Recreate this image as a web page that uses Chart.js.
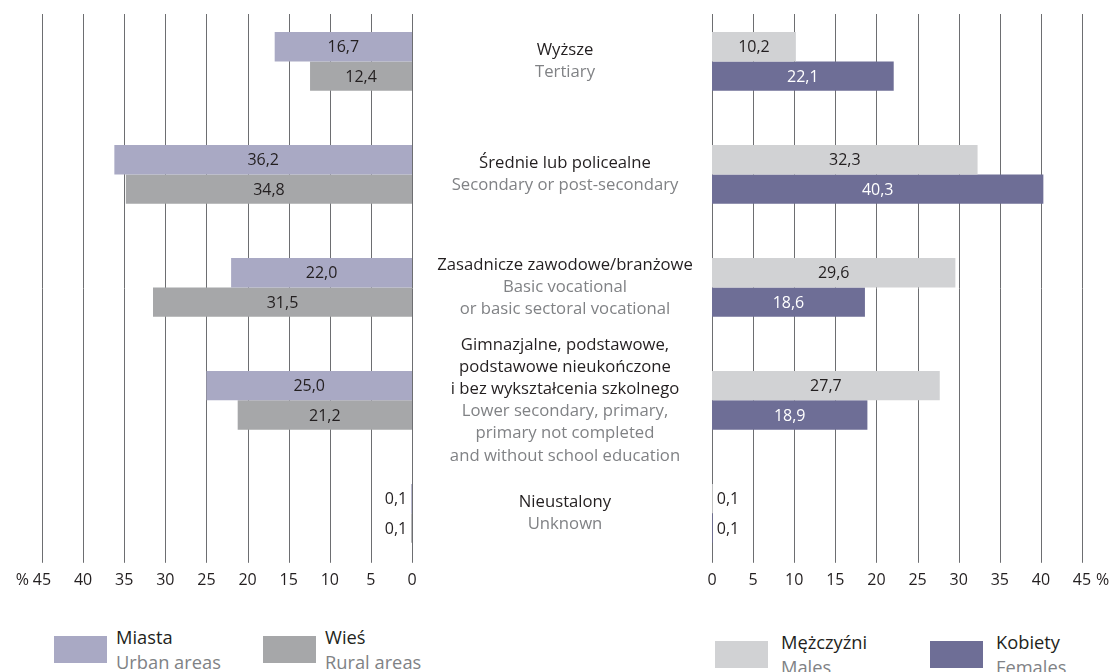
<!DOCTYPE html>
<html>
<head>
<meta charset="utf-8">
<script src="https://cdn.jsdelivr.net/npm/chart.js@4/dist/chart.umd.min.js"></script>
<style>
  body { margin: 0; background: #fff; font-family: 'Open Sans', sans-serif; }
  #page { position: relative; width: 1115px; height: 672px; overflow: hidden; }
  .box { position: absolute; top: 0; height: 600px; }
  .swatch { position: absolute; width: 53px; height: 27px; }
  .legend-text { position: absolute; font-size: 18.3px; line-height: 25px; white-space: nowrap; }
  .legend-text .pl { color: #231f20; }
  .legend-text .en { color: #808285; }
</style>
</head>
<body>
<div id="page">
  <div class="box" style="left:0;width:700px;"><canvas id="leftChart"></canvas></div>
  <div class="box" style="left:700px;width:415px;"><canvas id="rightChart"></canvas></div>

  <div class="swatch" style="left:54px;top:636px;background:#a9a9c4;"></div>
  <div class="legend-text" style="left:116px;top:624px;"><div class="pl">Miasta</div><div class="en">Urban areas</div></div>
  <div class="swatch" style="left:263px;top:636px;background:#a6a7a9;"></div>
  <div class="legend-text" style="left:325px;top:624px;"><div class="pl">Wieś</div><div class="en">Rural areas</div></div>

  <div class="swatch" style="left:715px;top:641px;background:#d1d2d4;"></div>
  <div class="legend-text" style="left:781px;top:629px;"><div class="pl">Mężczyźni</div><div class="en">Males</div></div>
  <div class="swatch" style="left:930px;top:641px;background:#6e6e96;"></div>
  <div class="legend-text" style="left:996px;top:629px;"><div class="pl">Kobiety</div><div class="en">Females</div></div>
</div>
<script>
  const categories = ['Wyższe', 'Średnie lub policealne', 'Zasadnicze zawodowe/branżowe', 'Gimnazjalne', 'Nieustalony'];
  const labelsPl = [
    ['Wyższe'],
    ['Średnie lub policealne'],
    ['Zasadnicze zawodowe/branżowe'],
    ['Gimnazjalne, podstawowe,', 'podstawowe nieukończone', 'i bez wykształcenia szkolnego'],
    ['Nieustalony'],
  ];
  const labelsEn = [
    ['Tertiary'],
    ['Secondary or post-secondary'],
    ['Basic vocational', 'or basic sectoral vocational'],
    ['Lower secondary, primary,', 'primary not completed', 'and without school education'],
    ['Unknown'],
  ];

  const urban = [16.7, 36.2, 22.0, 25.0, 0.1];
  const rural = [12.4, 34.8, 31.5, 21.2, 0.1];
  const males = [10.2, 32.3, 29.6, 27.7, 0.1];
  const females = [22.1, 40.3, 18.6, 18.9, 0.1];

  const axisTicks = [0, 5, 10, 15, 20, 25, 30, 35, 40, 45];

  const textDark = '#231f20';
  const textGray = '#808285';
  const gridColor = '#6d6e71';
  const fontFamily = "'Open Sans', sans-serif";

  Chart.defaults.font.family = fontFamily;
  Chart.defaults.color = textDark;

  function formatValue(v) {
    return v.toFixed(1).replace('.', ',');
  }

  // vertical grid lines, a bit shorter than the chart area
  const gridLines = {
    id: 'gridLines',
    beforeDatasetsDraw(chart) {
      const ctx = chart.ctx;
      const area = chart.chartArea;
      const xScale = chart.scales.x;

      ctx.save();
      ctx.strokeStyle = gridColor;
      ctx.lineWidth = 1;
      xScale.ticks.forEach((tick) => {
        const x = Math.round(xScale.getPixelForValue(tick.value)) + 0.5;
        ctx.beginPath();
        ctx.moveTo(x, area.top + 9);
        ctx.lineTo(x, area.bottom - 7);
        ctx.stroke();
      });
      ctx.restore();
    },
  };

  const valueLabels = {
    id: 'valueLabels',
    afterDatasetsDraw(chart) {
      const ctx = chart.ctx;
      const reversed = chart.options.scales.x.reverse;

      ctx.save();
      ctx.font = '16px ' + fontFamily;
      ctx.textBaseline = 'middle';
      chart.data.datasets.forEach((ds, i) => {
        chart.getDatasetMeta(i).data.forEach((bar, j) => {
          const text = formatValue(ds.data[j]);
          const width = Math.abs(bar.x - bar.base);

          if (width < 40) {
            ctx.fillStyle = textDark;
            ctx.textAlign = reversed ? 'right' : 'left';
            ctx.fillText(text, reversed ? bar.x - 4 : bar.x + 4, bar.y + 1);
          } else {
            ctx.fillStyle = ds.labelColor;
            ctx.textAlign = 'center';
            ctx.fillText(text, (bar.x + bar.base) / 2, bar.y + 1);
          }
        });
      });
      ctx.restore();
    },
  };

  // percent sign next to the outer "45" tick
  const percentSign = {
    id: 'percentSign',
    afterDraw(chart) {
      const ctx = chart.ctx;
      const xScale = chart.scales.x;
      const reversed = chart.options.scales.x.reverse;
      const x = xScale.getPixelForValue(45);
      const y = chart.chartArea.bottom + 11;

      ctx.save();
      ctx.font = '16px ' + fontFamily;
      ctx.fillStyle = textDark;
      ctx.textBaseline = 'middle';
      ctx.textAlign = reversed ? 'right' : 'left';
      ctx.fillText('%', reversed ? x - 13 : x + 14, y);
      ctx.restore();
    },
  };

  // category names between the two panels
  const middleLabels = {
    id: 'middleLabels',
    afterDraw(chart) {
      const ctx = chart.ctx;
      const yScale = chart.scales.y;
      const cx = 565;
      const lineHeight = 22.2;

      ctx.save();
      ctx.font = '16.7px ' + fontFamily;
      ctx.textAlign = 'center';
      ctx.textBaseline = 'middle';
      categories.forEach((cat, i) => {
        const lines = labelsPl[i].map((t) => [t, textDark]).concat(labelsEn[i].map((t) => [t, textGray]));
        const center = yScale.getPixelForValue(i);
        const start = center - ((lines.length - 1) * lineHeight) / 2;

        lines.forEach(([t, color], k) => {
          ctx.fillStyle = color;
          ctx.fillText(t, cx, start + k * lineHeight);
        });
      });
      ctx.restore();
    },
  };

  function buildChart(canvasId, datasets, reverse, padding, extraPlugins) {
    return new Chart(document.getElementById(canvasId), {
      type: 'bar',
      data: {
        labels: categories,
        datasets,
      },
      options: {
        indexAxis: 'y',
        responsive: true,
        maintainAspectRatio: false,
        animation: false,
        layout: { padding },
        plugins: {
          legend: { display: false },
          tooltip: { enabled: false },
        },
        datasets: {
          bar: {
            barPercentage: 1,
            categoryPercentage: 0.52,
          },
        },
        scales: {
          x: {
            type: 'linear',
            reverse,
            min: 0,
            max: 45,
            afterBuildTicks(scale) {
              scale.ticks = axisTicks.map((v) => ({ value: v }));
            },
            border: { display: false },
            grid: { display: false, drawTicks: false },
            ticks: {
              padding: 1,
              color: textDark,
              font: { size: 16 },
              maxRotation: 0,
            },
          },
          y: {
            display: false,
          },
        },
      },
      plugins: [gridLines, valueLabels, percentSign].concat(extraPlugins),
    });
  }

  buildChart('leftChart', [
    { label: 'Miasta', data: urban, backgroundColor: '#a9a9c4', labelColor: textDark },
    { label: 'Wieś', data: rural, backgroundColor: '#a6a7a9', labelColor: textDark },
  ], true, { left: 42, right: 288, top: 5, bottom: 9 }, [middleLabels]);

  buildChart('rightChart', [
    { label: 'Mężczyźni', data: males, backgroundColor: '#d1d2d4', labelColor: textDark },
    { label: 'Kobiety', data: females, backgroundColor: '#6e6e96', labelColor: '#ffffff' },
  ], false, { left: 12, right: 33, top: 5, bottom: 9 }, []);
</script>
</body>
</html>
